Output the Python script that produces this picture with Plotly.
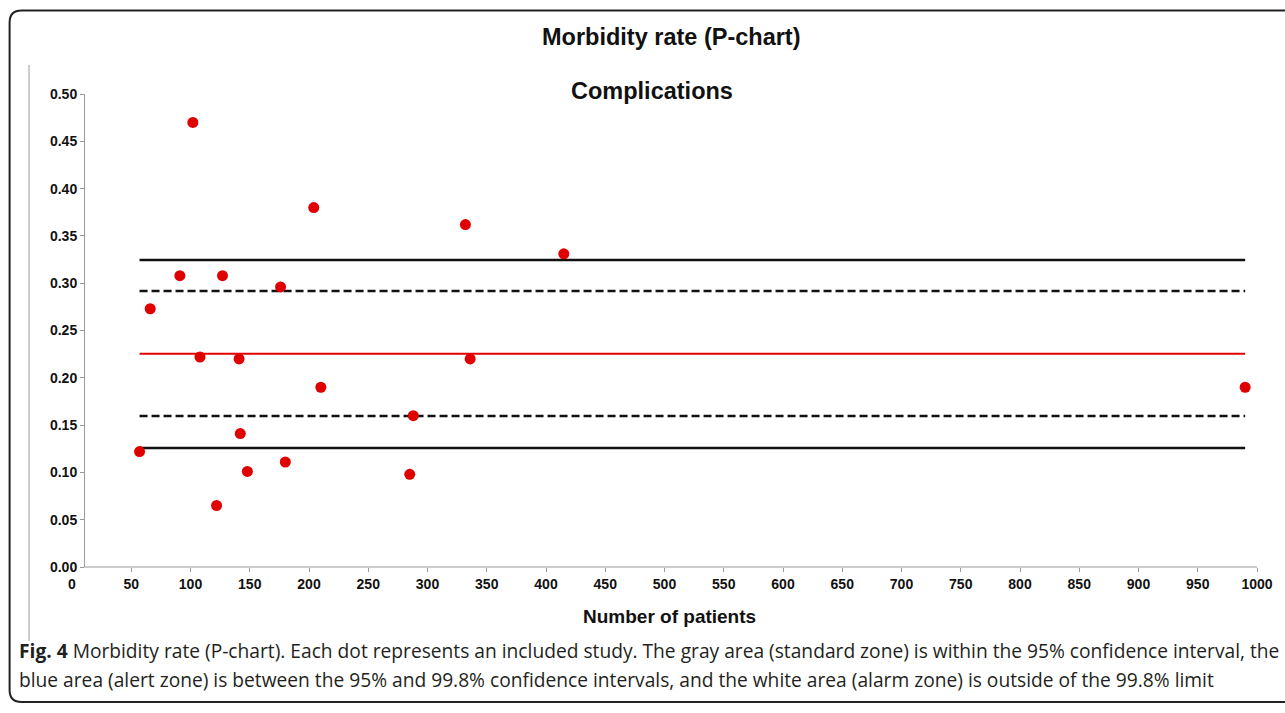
import plotly.graph_objects as go

# ---- data ----
patients = [57, 66, 91, 102, 108, 122, 127, 141, 142, 148, 176, 180, 204, 210, 285, 288, 332, 336, 415, 990]
rates = [0.122, 0.273, 0.308, 0.470, 0.222, 0.065, 0.308, 0.220, 0.141, 0.101,
         0.296, 0.111, 0.380, 0.190, 0.098, 0.160, 0.362, 0.220, 0.331, 0.190]
center_line = 0.2255
lim95 = [0.1596, 0.2918]
lim998 = [0.1258, 0.3245]
x_ticks = list(range(0, 1001, 50))
y_ticks = [i * 0.05 for i in range(11)]

W, H = 1285, 713
L, R, T, B = 72, 26, 94, 146
PW, PH = W - L - R, H - T - B


def px(x):
    return (x - L) / PW


def py(y):
    return (H - B - y) / PH


xline = [min(patients), max(patients)]
fig = go.Figure()

for v in lim998:
    fig.add_trace(go.Scatter(x=xline, y=[v, v], mode="lines",
                             line=dict(color="#111111", width=2.5), showlegend=False, hoverinfo="skip"))
for v in lim95:
    fig.add_trace(go.Scatter(x=xline, y=[v, v], mode="lines",
                             line=dict(color="#111111", width=2.5, dash="8px,4px"), showlegend=False, hoverinfo="skip"))
fig.add_trace(go.Scatter(x=xline, y=[center_line, center_line], mode="lines",
                         line=dict(color="#e00000", width=2), showlegend=False, hoverinfo="skip"))
fig.add_trace(go.Scatter(x=patients, y=rates, mode="markers",
                         marker=dict(color="#e00000", size=11), showlegend=False, cliponaxis=False))

FAM = "Liberation Sans, Arial, sans-serif"
tickfont = dict(family=FAM, size=14, color="#111111", weight="bold")
yaxis_pos = px(84)

fig.update_layout(
    width=W, height=H,
    margin=dict(l=L, r=R, t=T, b=B),
    paper_bgcolor="white", plot_bgcolor="white",
    xaxis=dict(range=[0, 1000], tickvals=x_ticks, ticktext=[str(v) for v in x_ticks],
               showgrid=False, zeroline=False, showline=False,
               ticks="outside", ticklen=4, tickcolor="#9a9a9a",
               tickfont=tickfont),
    yaxis=dict(range=[0, 0.5], tickvals=y_ticks, ticktext=["%.2f" % v for v in y_ticks],
               showgrid=False, zeroline=False, showline=True, linecolor="#9a9a9a", linewidth=1,
               ticks="outside", ticklen=4, tickcolor="#9a9a9a",
               anchor="free", position=yaxis_pos,
               tickfont=tickfont),
)

# x axis line (starts at the y axis)
fig.add_shape(type="line", xref="paper", yref="paper", x0=yaxis_pos, x1=1, y0=0, y1=0,
              line=dict(color="#9a9a9a", width=1))

# outer rounded frame
x0, x1 = px(9.5), px(1295)
y0, y1 = py(10.5), py(702)
rx, ry = 12 / PW, 12 / PH
path = (f"M {x1},{y0} L {x0+rx},{y0} Q {x0},{y0} {x0},{y0-ry} "
        f"L {x0},{y1+ry} Q {x0},{y1} {x0+rx},{y1} L {x1},{y1}")
fig.add_shape(type="path", xref="paper", yref="paper", path=path,
              line=dict(color="#222222", width=2))
# gray left rule of the chart image
fig.add_shape(type="line", xref="paper", yref="paper", x0=px(29), x1=px(29), y0=py(65), y1=py(641),
              line=dict(color="#cccccc", width=2))

fig.add_annotation(text="<b>Morbidity rate (P-chart)</b>", xref="paper", yref="paper",
                   x=px(673), y=py(37), yanchor="middle", showarrow=False,
                   font=dict(family=FAM, size=23.5, color="#111111"))
fig.add_annotation(text="<b>Complications</b>", xref="paper", yref="paper",
                   x=px(653), y=py(91), yanchor="middle", showarrow=False,
                   font=dict(family=FAM, size=23.5, color="#111111"))
fig.add_annotation(text="<b>Number of patients</b>", xref="paper", yref="paper",
                   x=px(671), y=py(616), yanchor="middle", showarrow=False,
                   font=dict(family=FAM, size=19, color="#111111"))

cap_font = dict(family="Open Sans, Noto Sans, sans-serif", size=19.2, color="#231f20")
fig.add_annotation(text="<b>Fig. 4</b> Morbidity rate (P-chart). Each dot represents an included study. "
                        "The gray area (standard zone) is within the 95% confidence interval, the",
                   xref="paper", yref="paper", x=px(17), y=py(650), xanchor="left", yanchor="middle",
                   showarrow=False, font=cap_font)
fig.add_annotation(text="blue area (alert zone) is between the 95% and 99.8% confidence intervals, "
                        "and the white area (alarm zone) is outside of the 99.8% limit",
                   xref="paper", yref="paper", x=px(17), y=py(679), xanchor="left", yanchor="middle",
                   showarrow=False, font=cap_font)

fig.write_html("out.html", post_script="document.body.style.margin='0';",
               config={"displayModeBar": False})
